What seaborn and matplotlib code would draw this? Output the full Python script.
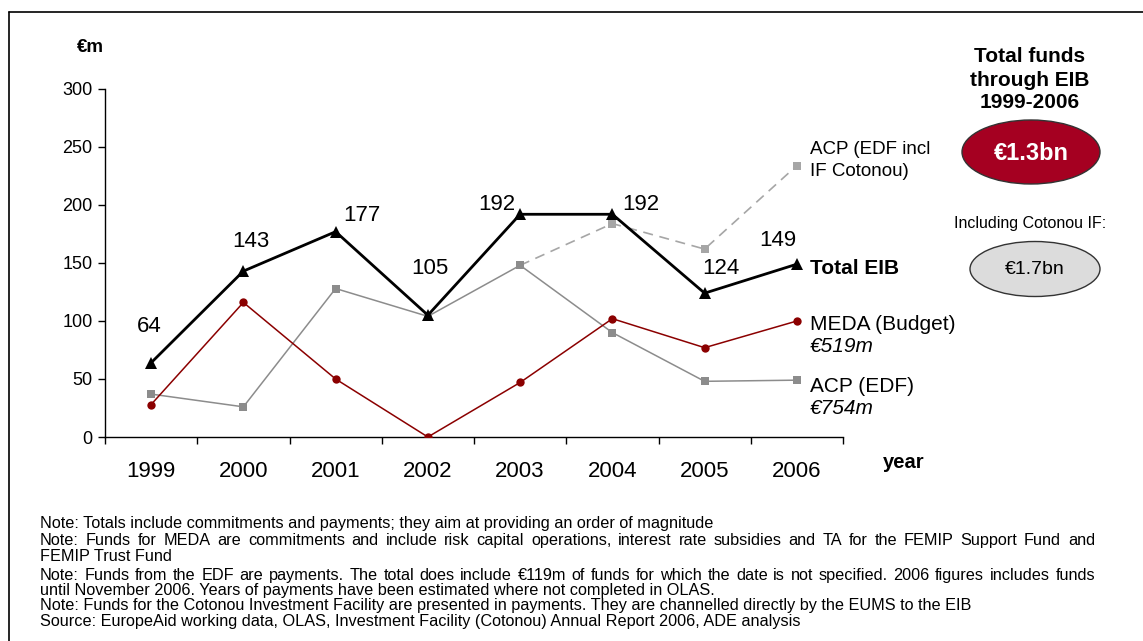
import numpy as np
import pandas as pd
import matplotlib
matplotlib.use("Agg")
import matplotlib.pyplot as plt
from matplotlib.patches import Ellipse
from matplotlib.lines import Line2D
import seaborn as sns

#%% Daten

years = ["1999", "2000", "2001", "2002", "2003", "2004", "2005", "2006"]
total_eib = [64, 143, 177, 105, 192, 192, 124, 149]
meda = [28, 116, 50, 0, 47, 102, 77, 100]
acp_edf = [37, 26, 128, 104, 148, 90, 48, 49]
acp_incl_years = ["2003", "2004", "2005", "2006"]
acp_incl = [148, 184, 162, 234]

# Offsets der Datenlabels in Pixel (dx, dy)
label_offsets = [(-2, 36), (7, 30), (26, 16), (2, 47), (-23, 10), (28, 10), (16, 25), (-19, 24)]

notes = [
    "Note: Totals include commitments and payments; they aim at providing an order of magnitude",
    "Note: Funds for MEDA are commitments and include risk capital operations, interest rate subsidies and TA for the FEMIP Support Fund and",
    "FEMIP Trust Fund",
    "Note: Funds from the EDF are payments. The total does include \u20ac119m of funds for which the date is not specified. 2006 figures includes funds",
    "until November 2006. Years of payments have been estimated where not completed in OLAS.",
    "Note: Funds for the Cotonou Investment Facility are presented in payments. They are channelled directly by the EUMS to the EIB",
    "Source: EuropeAid working data, OLAS, Investment Facility (Cotonou) Annual Report 2006, ADE analysis",
]
notes_y = [523, 540, 556, 575, 590, 605, 621]
notes_justify = [False, True, False, True, False, False, False]

#%% Setup

sns.set_style("white")
plt.rcParams['font.family'] = ['Liberation Sans', 'DejaVu Sans']
plt.rcParams['text.color'] = 'black'
plt.rcParams['xtick.color'] = 'black'
plt.rcParams['ytick.color'] = 'black'
plt.rcParams['axes.labelcolor'] = 'black'

W, H = 1143, 641
fig = plt.figure(figsize=(W/100, H/100), dpi=100)

def fx(x):
    return x/W

def fy(y):
    return 1 - y/H

ax = fig.add_axes([fx(105), fy(437), 738/W, 348/H])

pos = {y: i for i, y in enumerate(years)}
df_total = pd.DataFrame({"x": [pos[y] for y in years], "v": total_eib})
df_meda = pd.DataFrame({"x": [pos[y] for y in years], "v": meda})
df_acp = pd.DataFrame({"x": [pos[y] for y in years], "v": acp_edf})
df_incl = pd.DataFrame({"x": [pos[y] for y in acp_incl_years], "v": acp_incl})

sns.lineplot(data=df_incl, x="x", y="v", ax=ax, color="#a6a6a6", lw=1.2, dashes=False,
             linestyle=(0, (6, 4)), marker="s", markersize=5.5, markeredgewidth=0, zorder=2)
sns.lineplot(data=df_acp, x="x", y="v", ax=ax, color="#8c8c8c", lw=1.1,
             marker="s", markersize=5.5, markeredgewidth=0, zorder=3)
sns.lineplot(data=df_meda, x="x", y="v", ax=ax, color="#8b0000", lw=1.1,
             marker="o", markersize=6, markeredgewidth=0, zorder=4)
sns.lineplot(data=df_total, x="x", y="v", ax=ax, color="black", lw=2,
             marker="^", markersize=9, markeredgewidth=0, zorder=5)

for i, v in enumerate(total_eib):
    dx, dy = label_offsets[i]
    ax.annotate(str(v), (i, v), xytext=(dx, dy), textcoords="offset pixels",
                ha="center", va="center", fontsize=16)

#%% Achsen

ax.set_xlim(-0.5, len(years) - 0.5)
ax.set_ylim(0, 300)
ax.set_yticks(range(0, 301, 50))
ax.set_xticks(range(len(years)))
ax.set_xticklabels(years)
ax.set_xticks(np.arange(-0.5, len(years)), minor=True)
ax.set_xlabel("")
ax.set_ylabel("")
ax.tick_params(axis="x", which="major", length=0, pad=17, labelsize=16)
ax.tick_params(axis="x", which="minor", length=5, width=1, direction="out", bottom=True)
ax.tick_params(axis="y", length=5, width=1, direction="out", left=True, pad=4, labelsize=13)
for s in ["top", "right"]:
    ax.spines[s].set_visible(False)
for s in ["left", "bottom"]:
    ax.spines[s].set_color("black")
    ax.spines[s].set_linewidth(1)
ax.patch.set_alpha(0)

#%% Texte

fig.text(fx(90), fy(47), "\u20acm", fontsize=13.5, fontweight="bold", ha="center", va="center")
fig.text(fx(904), fy(463), "year", fontsize=14.5, fontweight="bold", ha="center", va="center")

fig.text(fx(810), fy(150), "ACP (EDF incl", fontsize=13.5, va="center")
fig.text(fx(810), fy(172), "IF Cotonou)", fontsize=13.5, va="center")
fig.text(fx(810), fy(268), "Total EIB", fontsize=15, fontweight="bold", va="center")
fig.text(fx(810), fy(324), "MEDA (Budget)", fontsize=15, va="center")
fig.text(fx(810), fy(346), "\u20ac519m", fontsize=15, style="italic", va="center")
fig.text(fx(810), fy(386), "ACP (EDF)", fontsize=15, va="center")
fig.text(fx(810), fy(408), "\u20ac754m", fontsize=15, style="italic", va="center")

for t, y in zip(["Total funds", "through EIB", "1999-2006"], [57, 81, 103]):
    fig.text(fx(1030), fy(y), t, fontsize=15, fontweight="bold", ha="center", va="center")

fig.add_artist(Ellipse((fx(1031), fy(152)), 138/W, 64/H, transform=fig.transFigure,
                       facecolor="#a50021", edgecolor="#333333", lw=1))
fig.text(fx(1031), fy(153), "\u20ac1.3bn", fontsize=17, fontweight="bold", color="white",
         ha="center", va="center")
fig.text(fx(1030), fy(223), "Including Cotonou IF:", fontsize=11.5, ha="center", va="center")
fig.add_artist(Ellipse((fx(1035), fy(269)), 130/W, 55/H, transform=fig.transFigure,
                       facecolor="#dcdcdc", edgecolor="#333333", lw=1))
fig.text(fx(1035), fy(270), "\u20ac1.7bn", fontsize=14, ha="center", va="center")

# Rahmen oben und links
fig.add_artist(Line2D([fx(9), fx(1143)], [fy(12), fy(12)], transform=fig.transFigure, color="black", lw=1.2))
fig.add_artist(Line2D([fx(9), fx(9)], [fy(12), fy(641)], transform=fig.transFigure, color="black", lw=1.2))

#%% Fussnoten (teilweise Blocksatz), Grundlinie ca. 5px unter der Zeilenmitte

renderer = fig.canvas.get_renderer()

def justified(text, y, x0, x1, size):
    words = text.split()
    objs = [fig.text(0, fy(y), w, fontsize=size, va="baseline") for w in words]
    widths = [o.get_window_extent(renderer).width for o in objs]
    gap = (x1 - x0 - sum(widths)) / (len(words) - 1)
    x = x0
    for o, w in zip(objs, widths):
        o.set_x(fx(x))
        x += w + gap

for t, y, j in zip(notes, notes_y, notes_justify):
    if j:
        justified(t, y + 5, 40, 1095, 11.7)
    else:
        fig.text(fx(40), fy(y + 5), t, fontsize=11.7, va="baseline")

fig.savefig("out.png", dpi=100)
